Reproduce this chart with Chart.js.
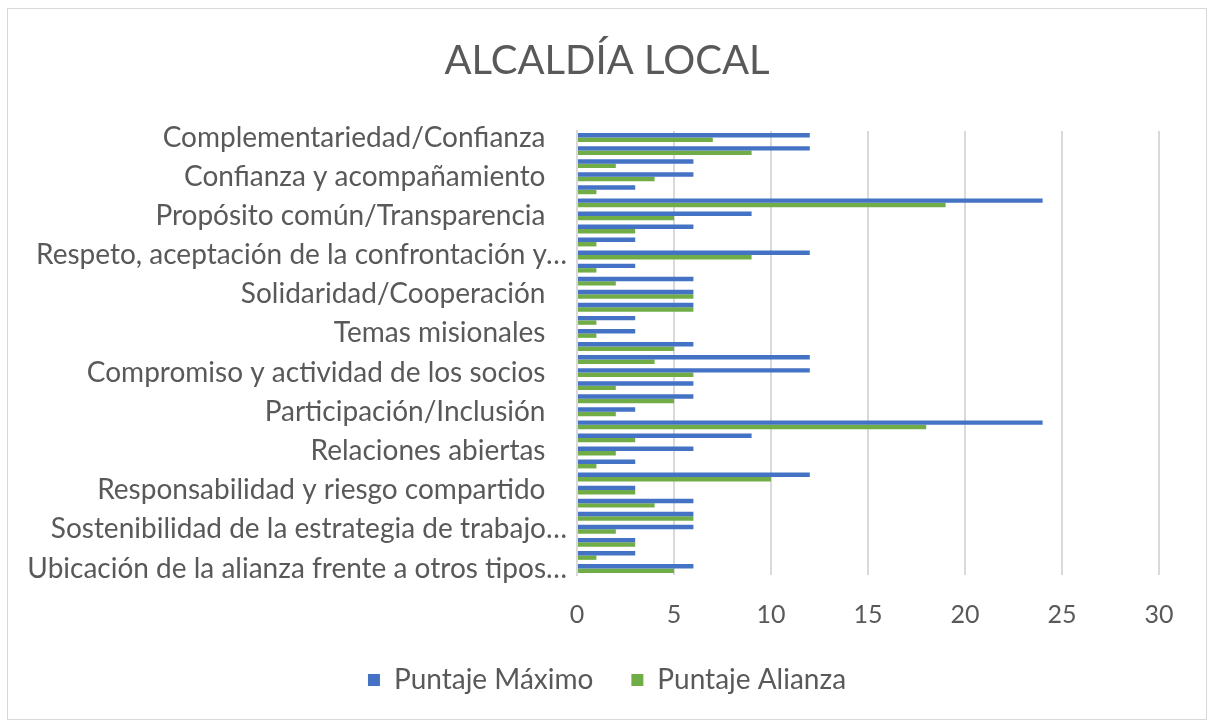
<!DOCTYPE html>
<html>
<head>
<meta charset="utf-8">
<script src="https://cdn.jsdelivr.net/npm/chart.js@4/dist/chart.umd.min.js"></script>
<style>
    body { margin: 0; background: #fff; }
    #frame { position: absolute; left: 7px; top: 8px; width: 1198px; height: 710px; border: 1px solid #d9d9d9; }
    #chart { position: absolute; left: 0; top: 0; }
</style>
</head>
<body>
<div id="frame"></div>
<canvas id="chart" width="1214" height="727"></canvas>
<script>
// only every third category has its label shown in the original
const categories = [
    'Complementariedad/Confianza   ', '', '',
    'Confianza y acompañamiento   ', '', '',
    'Propósito común/Transparencia   ', '', '',
    'Respeto, aceptación de la confrontación y…', '', '',
    'Solidaridad/Cooperación   ', '', '',
    'Temas misionales   ', '', '',
    'Compromiso y actividad de los socios   ', '', '',
    'Participación/Inclusión   ', '', '',
    'Relaciones abiertas   ', '', '',
    'Responsabilidad y riesgo compartido   ', '', '',
    'Sostenibilidad de la estrategia de trabajo…', '', '',
    'Ubicación de la alianza frente a otros tipos…'
];

const puntajeMaximo = [12, 12, 6, 6, 3, 24, 9, 6, 3, 12, 3, 6, 6, 6, 3, 3, 6, 12, 12, 6, 6, 3, 24, 9, 6, 3, 12, 3, 6, 6, 6, 3, 3, 6];
const puntajeAlianza = [7, 9, 2, 4, 1, 19, 5, 3, 1, 9, 1, 2, 6, 6, 1, 1, 5, 4, 6, 2, 5, 2, 18, 3, 2, 1, 10, 3, 4, 6, 2, 3, 1, 5];

const xTicks = [0, 5, 10, 15, 20, 25, 30];

const textColor = '#595959';
const fontFamily = 'Lato';

new Chart(document.getElementById('chart').getContext('2d'), {
    type: 'bar',
    data: {
        labels: categories,
        datasets: [
            {
                label: 'Puntaje Máximo',
                data: puntajeMaximo,
                backgroundColor: '#4472C4',
                categoryPercentage: 0.68,
                barPercentage: 1.0
            },
            {
                label: 'Puntaje Alianza',
                data: puntajeAlianza,
                backgroundColor: '#70AD47',
                categoryPercentage: 0.68,
                barPercentage: 1.0
            }
        ]
    },
    options: {
        indexAxis: 'y',
        responsive: false,
        animation: false,
        layout: { padding: { left: 20, right: 20, top: 37, bottom: 23 } },
        plugins: {
            title: {
                display: true,
                text: 'ALCALDÍA LOCAL',
                color: textColor,
                font: { family: fontFamily, size: 40, weight: 'normal' },
                padding: { top: 0, bottom: 46 }
            },
            legend: {
                position: 'bottom',
                labels: {
                    color: textColor,
                    font: { family: fontFamily, size: 28 },
                    boxWidth: 12,
                    boxHeight: 12,
                    padding: 10,
                    // wider gap between the two entries, like the original
                    generateLabels: chart => Chart.defaults.plugins.legend.labels.generateLabels(chart)
                        .map((item, i) => i === 0 ? { ...item, text: item.text + '\u2003\u2009\u2009' } : item)
                }
            },
            tooltip: { enabled: false }
        },
        scales: {
            x: {
                min: xTicks[0],
                max: xTicks[xTicks.length - 1],
                afterBuildTicks: s => { s.ticks = xTicks.map(v => ({ value: v })); },
                ticks: { color: textColor, font: { family: fontFamily, size: 25 }, padding: 25 },
                grid: { color: '#d9d9d9', lineWidth: 2, drawTicks: false },
                border: { display: false },
                afterFit: s => { s.height = 81; }
            },
            y: {
                ticks: { autoSkip: false, color: textColor, font: { family: fontFamily, size: 28 }, padding: 10 },
                grid: { display: false, drawTicks: false },
                border: { color: '#d9d9d9', width: 2 },
                afterFit: s => { s.width = 557; }
            },
            // empty right-hand spacer so the plot ends at 30 where the original does
            spacer: {
                type: 'category',
                position: 'right',
                grid: { display: false, drawTicks: false },
                ticks: { display: false },
                border: { display: false },
                afterFit: s => { s.width = 35; }
            }
        }
    }
});
</script>
</body>
</html>
